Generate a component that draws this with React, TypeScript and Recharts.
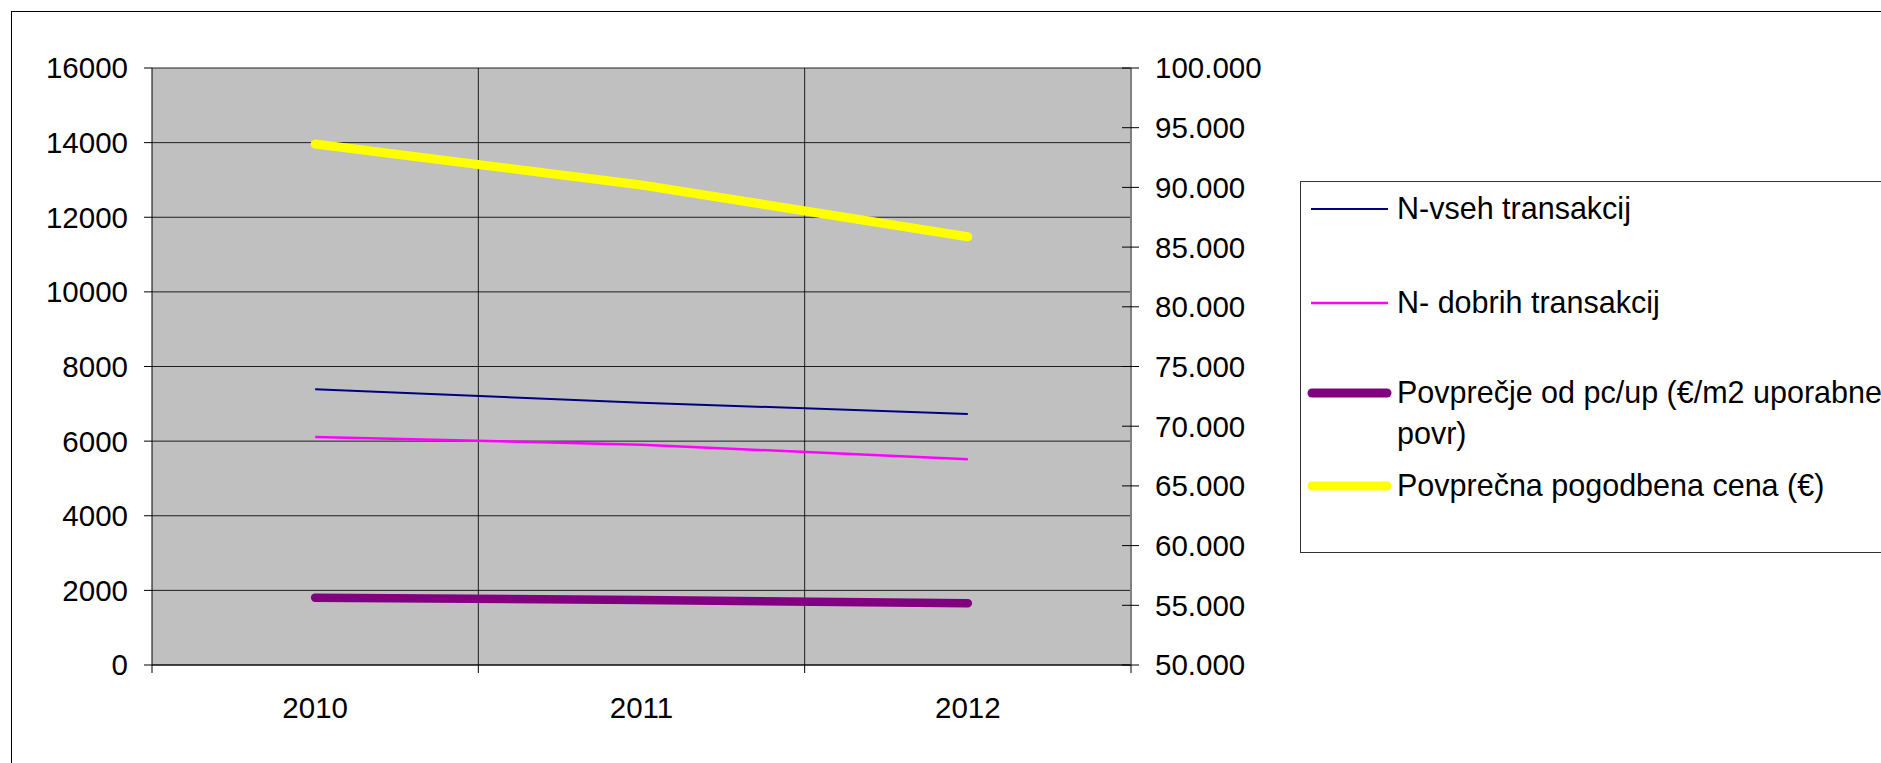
import React from "react";
import { LineChart, Line, XAxis, YAxis, CartesianGrid } from "recharts";

const years = ["2010", "2011", "2012"];
const nVseh = [7390, 7030, 6730];
const nDobrih = [6110, 5905, 5515];
const povprecjePcUp = [1805, 1740, 1655];
const povprecnaCena = [93640, 90200, 85870];
const leftTicks = [0, 2000, 4000, 6000, 8000, 10000, 12000, 14000, 16000];
const rightTicks = [50000, 55000, 60000, 65000, 70000, 75000, 80000, 85000, 90000, 95000, 100000];

const data = years.map((year, i) => ({
  year,
  nVseh: nVseh[i],
  nDobrih: nDobrih[i],
  povprecjePcUp: povprecjePcUp[i],
  povprecnaCena: povprecnaCena[i],
}));

const series = [
  { key: "nVseh", name: ["N-vseh transakcij"], color: "#000080", width: 2, axis: "left", cap: "butt" },
  { key: "nDobrih", name: ["N- dobrih transakcij"], color: "#FF00FF", width: 2.5, axis: "left", cap: "butt" },
  { key: "povprecjePcUp", name: ["Povprečje od pc/up (€/m2 uporabne", "povr)"], color: "#800080", width: 8.5, axis: "left", cap: "round" },
  { key: "povprecnaCena", name: ["Povprečna pogodbena cena (€)"], color: "#FFFF00", width: 9, axis: "right", cap: "round" },
];

const FONT = '"Liberation Sans", Arial, sans-serif';
const tickFont = { fontSize: 29.5, fontFamily: FONT, fill: "#000" };

const dotted = (v: number) => String(v).replace(/\B(?=(\d{3})+(?!\d))/g, ".");

// right axis ticks cross the axis line, like the original
const RightTick = (props: any) => {
  const { x, y, payload } = props;
  return (
    <g>
      <line x1={x - 33} x2={x - 16} y1={y} y2={y} stroke="#000" strokeWidth={1} />
      <text x={x} y={y} dy="0.355em" textAnchor="start" {...tickFont}>
        {dotted(payload.value)}
      </text>
    </g>
  );
};

// category labels in the middle, tick marks on the band edges
const YearTick = (props: any) => {
  const { x, y, payload, index, visibleTicksCount, width } = props;
  const half = (width || 979) / (visibleTicksCount || years.length) / 2;
  return (
    <g>
      <line x1={x - half} x2={x - half} y1={y} y2={y + 8} stroke="#000" />
      {index === visibleTicksCount - 1 && (
        <line x1={x + half} x2={x + half} y1={y} y2={y + 8} stroke="#000" />
      )}
      <text x={x} y={y + 32} dy="0.71em" textAnchor="middle" {...tickFont}>
        {payload.value}
      </text>
    </g>
  );
};

const legendGaps = [6, 53, 49, 11];

const ChartLegend = () => (
  <div
    style={{
      position: "absolute",
      left: 1300,
      top: 181,
      width: 700,
      height: 370,
      border: "1px solid #333",
      background: "#fff",
      fontFamily: FONT,
      fontSize: 30.5,
      lineHeight: "41px",
      color: "#000",
      whiteSpace: "nowrap",
    }}
  >
    {series.map((s, i) => (
      <div key={s.key} style={{ display: "flex", marginTop: legendGaps[i] }}>
        <svg width={96} height={41} style={{ flex: "none" }}>
          <line
            x1={s.cap === "round" ? 11 : 10}
            x2={s.cap === "round" ? 86 : 87}
            y1={21}
            y2={21}
            stroke={s.color}
            strokeWidth={s.cap === "round" ? 9 : s.width}
            strokeLinecap={s.cap as any}
          />
        </svg>
        <div>
          {s.name.map((line) => (
            <div key={line}>{line}</div>
          ))}
        </div>
      </div>
    ))}
  </div>
);

export default function App() {
  return (
    <div
      style={{
        position: "fixed",
        left: 0,
        top: 0,
        width: 1881,
        height: 763,
        overflow: "hidden",
        background: "#fff",
      }}
    >
      <div
        style={{
          position: "absolute",
          left: 11,
          top: 11,
          width: 2000,
          height: 1000,
          border: "1px solid #000",
        }}
      />
      <div style={{ position: "absolute", left: 0, top: 0 }}>
        <LineChart width={1881} height={763} data={data} margin={{ top: 68, right: 0, left: 0, bottom: 0 }}>
          <CartesianGrid
            yAxisId="left"
            fill="#C0C0C0"
            fillOpacity={1}
            stroke="#000"
            strokeOpacity={0.85}
            verticalCoordinatesGenerator={({ offset }: any) =>
              years.slice(1).map((_, i) => offset.left + (offset.width * (i + 1)) / years.length)
            }
          />
          <XAxis
            dataKey="year"
            scale="band"
            height={98}
            tickSize={0}
            tickMargin={0}
            tickLine={false}
            axisLine={{ stroke: "#000" }}
            tick={<YearTick />}
            interval={0}
          />
          <YAxis
            yAxisId="left"
            width={152}
            domain={[0, 16000]}
            ticks={leftTicks}
            interval={0}
            tickSize={8}
            tickMargin={16}
            tick={tickFont}
            tickLine={{ stroke: "#000" }}
            axisLine={{ stroke: "#000" }}
          />
          <YAxis
            yAxisId="right"
            orientation="right"
            width={750}
            domain={[50000, 100000]}
            ticks={rightTicks}
            interval={0}
            tickSize={8}
            tickMargin={16}
            tickLine={false}
            tick={<RightTick />}
            axisLine={{ stroke: "#808080", strokeWidth: 2 }}
          />
          {series.map((s) => (
            <Line
              key={s.key}
              yAxisId={s.axis}
              dataKey={s.key}
              type="linear"
              stroke={s.color}
              strokeWidth={s.width}
              strokeLinecap={s.cap as any}
              dot={false}
              activeDot={false}
              isAnimationActive={false}
            />
          ))}
        </LineChart>
      </div>
      <ChartLegend />
    </div>
  );
}
